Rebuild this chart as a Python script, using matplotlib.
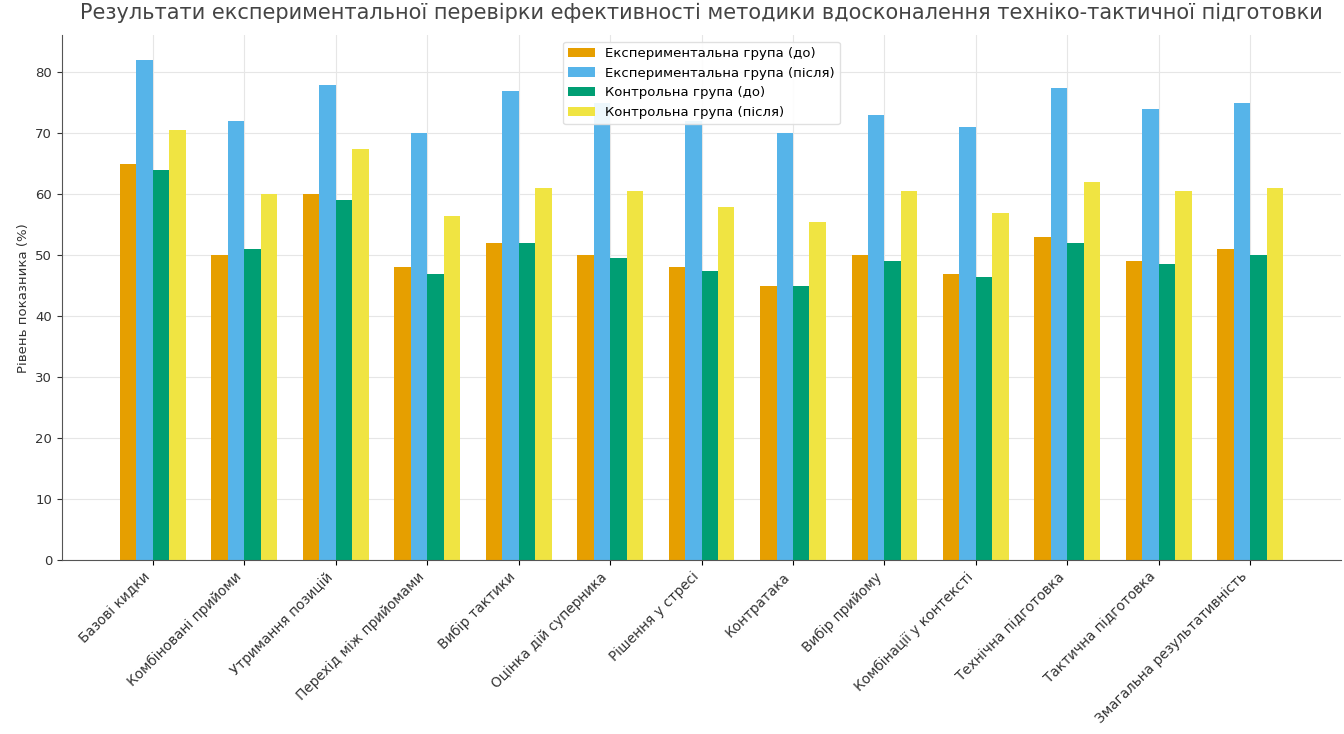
import numpy as np
import matplotlib.pyplot as plt

categories = [
    "Базові кидки",
    "Комбіновані прийоми",
    "Утримання позицій",
    "Перехід між прийомами",
    "Вибір тактики",
    "Оцінка дій суперника",
    "Рішення у стресі",
    "Контратака",
    "Вибір прийому",
    "Комбінації у контексті",
    "Технічна підготовка",
    "Тактична підготовка",
    "Змагальна результативність",
]

exp_before = [65, 50, 60, 48, 52, 50, 48, 45, 50, 47, 53, 49, 51]
exp_after = [82, 72, 78, 70, 77, 75, 72, 70, 73, 71, 77.5, 74, 75]
ctrl_before = [64, 51, 59, 47, 52, 49.5, 47.5, 45, 49, 46.5, 52, 48.5, 50]
ctrl_after = [70.5, 60, 67.5, 56.5, 61, 60.5, 58, 55.5, 60.5, 57, 62, 60.5, 61]

series_labels = [
    "Експериментальна група (до)",
    "Експериментальна група (після)",
    "Контрольна група (до)",
    "Контрольна група (після)",
]
colors = ["#E69F00", "#56B4E9", "#009E73", "#F0E442"]

x = np.arange(len(categories))
w = 0.18

fig = plt.figure(figsize=(13.44, 7.34), dpi=100)
ax = fig.add_axes((0.046, 0.237, 0.952, 0.715))

for i, (vals, lab, col) in enumerate(
    zip([exp_before, exp_after, ctrl_before, ctrl_after], series_labels, colors)
):
    ax.bar(x + (i - 1.5) * w, vals, w, label=lab, color=col, zorder=2)

ax.set_xticks(x)
ax.set_xticklabels(categories, rotation=45, ha="right", fontsize=9.8, color="#333333")
ax.tick_params(axis="y", labelsize=9.5, colors="#333333")
ax.set_ylabel("Рівень показника (%)", fontsize=9.5, color="#333333")
ax.set_title(
    "Результати експериментальної перевірки ефективності методики вдосконалення техніко-тактичної підготовки",
    fontsize=15, color="#444444", pad=12,
)

ax.grid(True, color="#e6e6e6", linewidth=0.8, zorder=0)
ax.set_axisbelow(True)
for side in ("top", "right"):
    ax.spines[side].set_visible(False)
for side in ("left", "bottom"):
    ax.spines[side].set_color("#555555")

ax.legend(loc="upper center", fontsize=9.5, framealpha=0.9, edgecolor="#dddddd")

fig.savefig("out.png", dpi=100)
